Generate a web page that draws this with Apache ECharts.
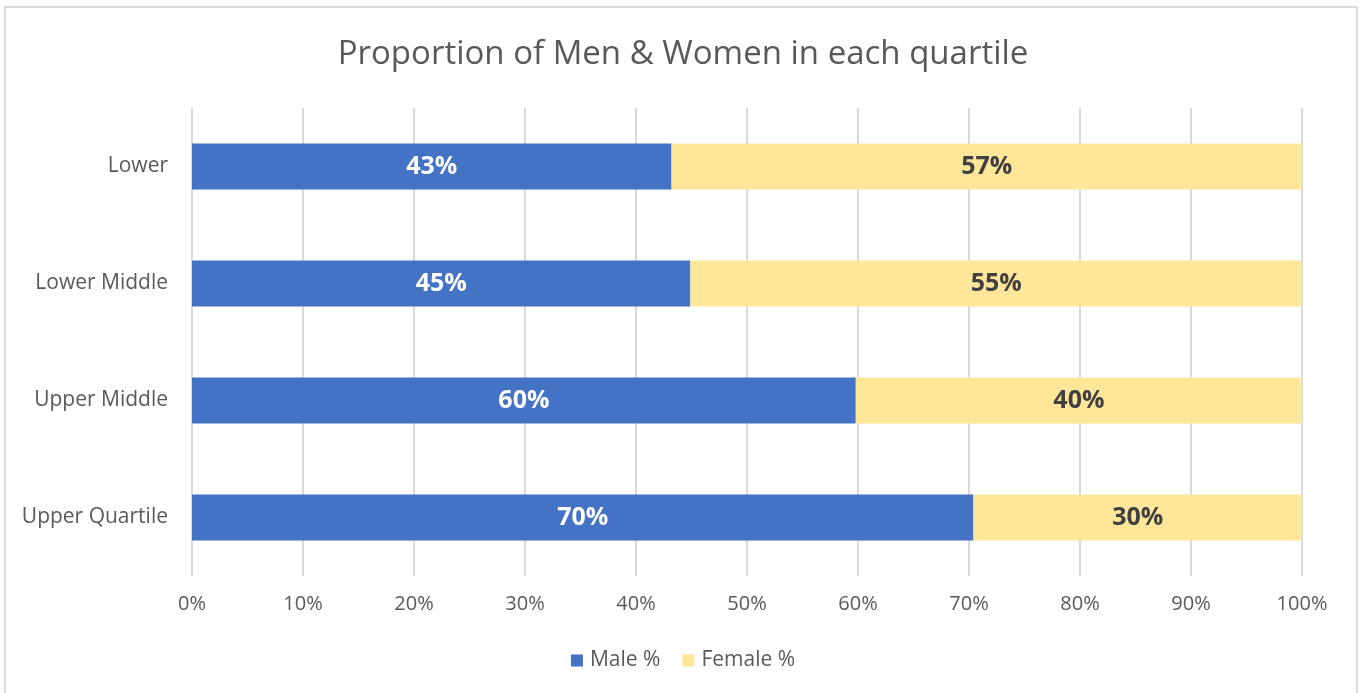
<!DOCTYPE html>
<html>
<head>
<meta charset="utf-8">
<title>Proportion of Men & Women in each quartile</title>
<script src="https://cdn.jsdelivr.net/npm/echarts@6/dist/echarts.min.js"></script>
<style>
  html, body { margin: 0; padding: 0; background: #fff; }
  #chart { width: 1366px; height: 693px; }
</style>
</head>
<body>
<div id="chart"></div>
<script>
"use strict";

// data
var quartiles = ['Lower', 'Lower Middle', 'Upper Middle', 'Upper Quartile'];
var malePct = [43.2, 44.9, 59.8, 70.4];
var femalePct = [56.8, 55.1, 40.2, 29.6];
var tickPct = [0, 10, 20, 30, 40, 50, 60, 70, 80, 90, 100];

var font = '"Open Sans", sans-serif';

var chart = echarts.init(document.getElementById('chart'));

var option = {
  backgroundColor: '#fff',
  color: ['#4472C4', '#FFE699'],
  textStyle: { fontFamily: font },
  title: {
    text: 'Proportion of Men & Women in each quartile',
    left: 'center',
    top: 33,
    textStyle: { color: '#595959', fontSize: 33, fontWeight: 'normal', fontFamily: font }
  },
  graphic: [{
    type: 'rect',
    shape: { x: 5, y: 7, width: 1352, height: 700 },
    style: { fill: 'none', stroke: '#d9d9d9', lineWidth: 2 },
    silent: true
  }],
  legend: {
    bottom: 17,
    left: 'center',
    itemWidth: 12,
    itemHeight: 12,
    itemGap: 22,
    icon: 'rect',
    textStyle: { color: '#595959', fontSize: 21, fontFamily: font, padding: [0, 0, 0, 2] }
  },
  grid: { left: 192, right: 64, top: 108, bottom: 117 },
  xAxis: {
    type: 'value',
    min: tickPct[0],
    max: tickPct[tickPct.length - 1],
    interval: tickPct[1] - tickPct[0],
    axisLine: { show: false },
    axisTick: { show: false },
    axisLabel: { color: '#595959', fontSize: 20, margin: 18, formatter: '{value}%' },
    splitLine: { lineStyle: { color: '#d9d9d9', width: 2 } }
  },
  yAxis: {
    type: 'category',
    inverse: true,
    data: quartiles,
    axisLine: { show: false },
    axisTick: { show: false },
    axisLabel: { color: '#595959', fontSize: 21, margin: 24 }
  },
  series: [{
    name: 'Male %',
    type: 'bar',
    stack: 'total',
    data: malePct,
    barWidth: 46,
    label: {
      show: true,
      position: 'inside',
      color: '#fff',
      fontSize: 25,
      fontWeight: 'bold',
      fontFamily: font,
      formatter: function (p) { return Math.round(p.value) + '%'; }
    }
  }, {
    name: 'Female %',
    type: 'bar',
    stack: 'total',
    data: femalePct,
    barWidth: 46,
    label: {
      show: true,
      position: 'inside',
      color: '#404040',
      fontSize: 25,
      fontWeight: 'bold',
      fontFamily: font,
      formatter: function (p) { return Math.round(p.value) + '%'; }
    }
  }]
};

chart.setOption(option);
</script>
</body>
</html>
